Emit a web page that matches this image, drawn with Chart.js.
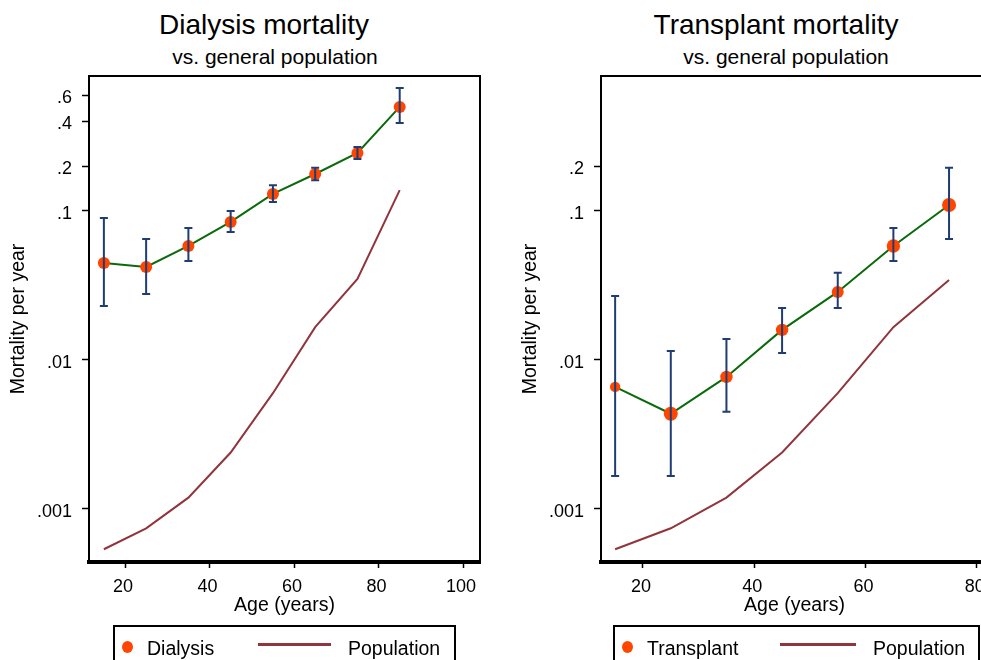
<!DOCTYPE html>
<html>
<head>
<meta charset="utf-8">
<script src="https://cdn.jsdelivr.net/npm/chart.js@4.4.1/dist/chart.umd.min.js"></script>
<style>
html,body{margin:0;padding:0;background:#fff;overflow:hidden;width:981px;height:660px;}
body{position:relative;font-family:"Liberation Sans",Arial,sans-serif;color:#000;}
canvas{position:absolute;top:0;}
.t{position:absolute;white-space:nowrap;transform:translateX(-50%);}
.title{font-size:28px;line-height:28px;top:11px;}
.sub{font-size:21px;line-height:21px;top:45.5px;}
.lbox{position:absolute;top:625px;height:60px;border:2px solid #000;box-sizing:border-box;}
.ltxt{position:absolute;font-size:19.5px;line-height:20px;top:638px;white-space:nowrap;}
.ldot{position:absolute;width:11px;height:12px;border-radius:50%;background:#ff4500;top:641px;}
.lline{position:absolute;height:2.5px;background:#90353b;top:643px;}
</style>
</head>
<body>
<div class="t title" style="left:264px">Dialysis mortality</div>
<div class="t sub" style="left:275px">vs. general population</div>
<div class="t title" style="left:776px">Transplant mortality</div>
<div class="t sub" style="left:786px">vs. general population</div>

<canvas id="c1" width="500" height="660" style="left:0;width:500px;height:660px"></canvas>
<canvas id="c2" width="516" height="660" style="left:490px;width:516px;height:660px"></canvas>

<div class="lbox" style="left:113px;width:343px"></div>
<div class="ldot" style="left:121.5px"></div>
<div class="ltxt" style="left:147px">Dialysis</div>
<div class="lline" style="left:258px;width:73px"></div>
<div class="ltxt" style="left:348px">Population</div>

<div class="lbox" style="left:613px;width:367px"></div>
<div class="ldot" style="left:621.5px"></div>
<div class="ltxt" style="left:647px">Transplant</div>
<div class="lline" style="left:780px;width:76px"></div>
<div class="ltxt" style="left:873px">Population</div>

<script>
// ---- Data ----
const dialysisAges = [15, 25, 35, 45, 55, 65, 75, 85];
const dialysisRate = [0.0448, 0.0421, 0.0582, 0.0844, 0.130, 0.177, 0.245, 0.499];
const dialysisLo   = [0.0230, 0.0277, 0.0462, 0.0722, 0.115, 0.161, 0.223, 0.390];
const dialysisHi   = [0.0897, 0.0649, 0.0769, 0.100, 0.149, 0.195, 0.269, 0.670];
const populationDialysis = [0.000536, 0.000741, 0.00119, 0.00239, 0.00598, 0.0166, 0.0350, 0.138];

const transplantAges = [15, 25, 35, 45, 55, 65, 75];
const transplantRate = [0.00659, 0.00435, 0.00769, 0.0159, 0.0286, 0.0582, 0.1097];
const transplantLo   = [0.00166, 0.00166, 0.00448, 0.01113, 0.0223, 0.0462, 0.0649];
const transplantHi   = [0.0269, 0.01148, 0.01384, 0.0223, 0.0384, 0.0769, 0.195];
const populationTransplant = [0.000536, 0.000741, 0.00119, 0.00239, 0.00598, 0.0166, 0.0344];

const xTicksLeft = [20, 40, 60, 80, 100];
const xTicksRight = [20, 40, 60, 80];
const yTicksLeft = [0.001, 0.01, 0.1, 0.2, 0.4, 0.6];
const yTickLabelsLeft = ['.001', '.01', '.1', '.2', '.4', '.6'];
const yTicksRight = [0.001, 0.01, 0.1, 0.2];
const yTickLabelsRight = ['.001', '.01', '.1', '.2'];

// ---- Styles ----
const ORANGE = '#ff4500', GREEN = '#0a6a0a', MAROON = '#90353b', NAVY = '#1f3d73';
const FONT = '"Liberation Sans", Arial, sans-serif';

const frame = {
  id: 'frame',
  afterDraw(chart) {
    const {ctx, chartArea: a} = chart;
    ctx.save();
    ctx.strokeStyle = '#000';
    ctx.lineWidth = 2;
    ctx.strokeRect(a.left, a.top, a.right - a.left, a.bottom - a.top);
    ctx.restore();
  }
};

const errorBars = {
  id: 'errorBars',
  afterDatasetsDraw(chart, args, opts) {
    const {ctx, scales: {x, y}} = chart;
    ctx.save();
    ctx.strokeStyle = opts.color;
    ctx.lineWidth = opts.width;
    const cap = opts.cap;
    opts.xs.forEach((xv, i) => {
      const px = x.getPixelForValue(xv);
      const pl = y.getPixelForValue(opts.lo[i]);
      const ph = y.getPixelForValue(opts.hi[i]);
      ctx.beginPath();
      ctx.moveTo(px, pl); ctx.lineTo(px, ph);
      ctx.moveTo(px - cap, pl); ctx.lineTo(px + cap, pl);
      ctx.moveTo(px - cap, ph); ctx.lineTo(px + cap, ph);
      ctx.stroke();
    });
    ctx.restore();
  }
};

function makeChart(id, cfg) {
  const pts = (xs, ys) => xs.map((v, i) => ({x: v, y: ys[i]}));
  return new Chart(document.getElementById(id), {
    type: 'line',
    data: {
      datasets: [
        {
          label: cfg.name,
          data: pts(cfg.ages, cfg.rate),
          borderColor: GREEN,
          borderWidth: 2,
          pointRadius: cfg.markerRadius,
          pointBackgroundColor: ORANGE,
          pointBorderColor: ORANGE,
          pointBorderWidth: 0,
          tension: 0
        },
        {
          label: 'Population',
          data: pts(cfg.ages, cfg.pop),
          borderColor: MAROON,
          borderWidth: 2,
          pointRadius: 0,
          tension: 0
        }
      ]
    },
    options: {
      responsive: false,
      animation: false,
      events: [],
      layout: {padding: cfg.padding},
      plugins: {
        legend: {display: false},
        tooltip: {enabled: false},
        errorBars: {xs: cfg.ages, lo: cfg.lo, hi: cfg.hi, color: NAVY, width: 2, cap: 4}
      },
      scales: {
        x: {
          type: 'linear',
          min: cfg.xmin, max: cfg.xmax,
          afterBuildTicks: s => { s.ticks = cfg.xTicks.map(v => ({value: v})); },
          afterFit: s => { s.height = 60; },
          grid: {display: true, drawOnChartArea: false, drawTicks: true, tickLength: 6, tickColor: '#000', tickWidth: 1.5},
          border: {display: true, color: '#000', width: 4},
          ticks: {color: '#000', font: {family: FONT, size: 18}, padding: 8, maxRotation: 0, autoSkip: false, labelOffset: -2,
                  callback: v => String(v)},
          title: {display: true, text: 'Age (years)', color: '#000', font: {family: FONT, size: 19.5}, padding: {top: 0, bottom: 5}}
        },
        y: {
          type: 'logarithmic',
          min: 0.000440, max: 0.805,
          afterBuildTicks: s => { s.ticks = cfg.yTicks.map(v => ({value: v})); },
          afterFit: s => { s.width = 89; },
          grid: {display: true, drawOnChartArea: false, drawTicks: true, tickLength: 7, tickColor: '#000', tickWidth: 1.5},
          border: {display: true, color: '#000', width: 2},
          ticks: {color: '#000', font: {family: FONT, size: 18}, padding: 10, autoSkip: false, labelOffset: 3,
                  callback: (v, i) => cfg.yLabels[i]},
          title: {display: true, text: 'Mortality per year', color: '#000', font: {family: FONT, size: 19.5}, padding: {top: 7, bottom: 0}}
        }
      }
    },
    plugins: [errorBars, frame]
  });
}

makeChart('c1', {
  name: 'Dialysis', ages: dialysisAges, rate: dialysisRate, lo: dialysisLo, hi: dialysisHi, pop: populationDialysis,
  xmin: 11.48, xmax: 104.0, xTicks: xTicksLeft, yTicks: yTicksLeft, yLabels: yTickLabelsLeft,
  markerRadius: 6,
  padding: {left: 0, top: 76, right: 20, bottom: 38}
});
makeChart('c2', {
  name: 'Transplant', ages: transplantAges, rate: transplantRate, lo: transplantLo, hi: transplantHi, pop: populationTransplant,
  xmin: 12.46, xmax: 82.0, xTicks: xTicksRight, yTicks: yTicksRight, yLabels: yTickLabelsRight,
  markerRadius: [5.2, 7, 6.2, 6.2, 6, 6.7, 7],
  padding: {left: 22, top: 76, right: 18, bottom: 38}
});
</script>
</body>
</html>
